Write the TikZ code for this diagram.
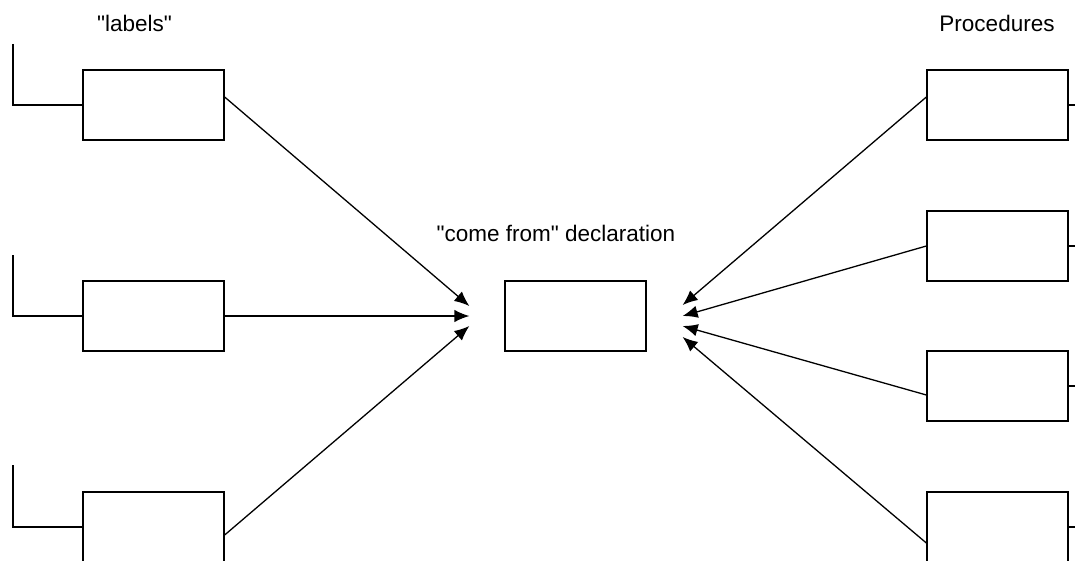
\documentclass[tikz,border=0pt]{standalone}
\usepackage{fontspec}
\setmainfont{Liberation Sans}
\usepackage{tikz}
\usetikzlibrary{calc,arrows.meta}
\tikzset{>={Latex[length=15pt, width=12.5pt]},
    box/.style={draw, rectangle, minimum width=141pt, minimum height=70pt, inner sep=0pt},
    title/.style={anchor=base, inner sep=0pt}}
\newcommand{\qt}[1]{\textquotedbl#1\textquotedbl}

\begin{document}
\begin{tikzpicture}[x=1pt, y=-1pt, line width=1.3pt, font=\fontsize{22.5}{27}\selectfont]
    \useasboundingbox (0, 0) rectangle (1075, 561);
    \clip (0, 0) rectangle (1075, 561);
    \node[title] at (134.5, 32) (lbl) {\qt{labels}};
    \node[title] at (997, 32) (prc) {Procedures};
    \node[title] at (556, 242) (dcl) {\qt{come from} declaration};
    \node[box] at (153.5, 105) (lb1) {};
    \node[box] at (153.5, 316) (lb2) {};
    \node[box] at (153.5, 527) (lb3) {};
    \node[box] at (575.5, 316) (cf) {};
    \node[box] at (997.5, 105) (rb1) {};
    \node[box] at (997.5, 246) (rb2) {};
    \node[box] at (997.5, 386) (rb3) {};
    \node[box] at (997.5, 527) (rb4) {};
    \coordinate (t1) at (13, 44);
    \coordinate (t2) at (13, 255);
    \coordinate (t3) at (13, 465);
    \draw (t1) |- (lb1.west);
    \draw (t2) |- (lb2.west);
    \draw (t3) |- (lb3.west);
    \foreach \b in {rb1, rb2, rb3, rb4}
        \draw (\b.east) -- ++(12, 0);
    \draw[->] ($(lb1.east) + (0, -8)$) -- ($(cf.west) + (-35, -10)$);
    \draw[->] (lb2.east) -- ($(cf.west) + (-35, 0)$);
    \draw[->] ($(lb3.east) + (0, 8)$) -- ($(cf.west) + (-35, 10)$);
    \draw[->] ($(rb1.west) + (0, -8)$) -- ($(cf.east) + (36, -11)$);
    \draw[->] (rb2.west) -- ($(cf.east) + (36, 0)$);
    \draw[->] ($(rb3.west) + (0, 9)$) -- ($(cf.east) + (36, 10)$);
    \draw[->] ($(rb4.west) + (0, 16)$) -- ($(cf.east) + (36, 21)$);
\end{tikzpicture}
\end{document}
